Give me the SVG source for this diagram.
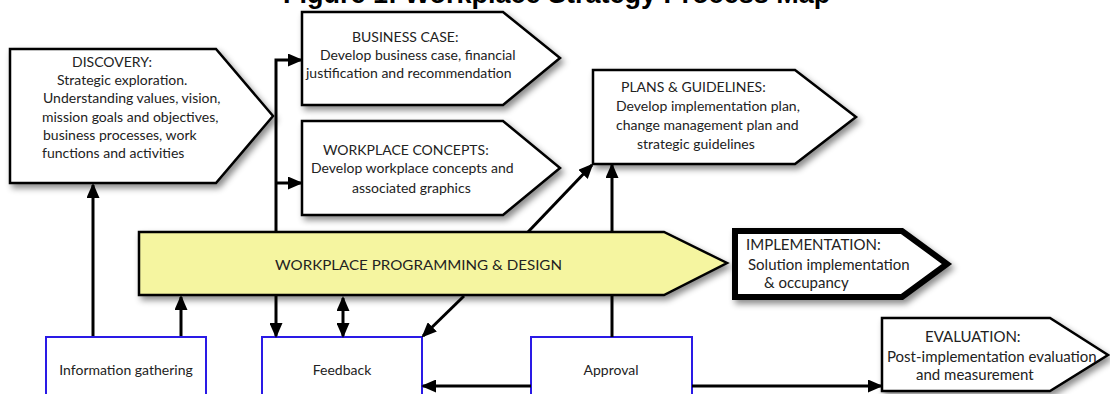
<svg xmlns="http://www.w3.org/2000/svg" width="1110" height="394" viewBox="0 0 1110 394">
<defs>
<filter id="sh" x="-10%" y="-10%" width="130%" height="140%">
<feDropShadow dx="3" dy="4" stdDeviation="3" flood-color="#000" flood-opacity="0.45"/>
</filter>
<marker id="ah" markerUnits="userSpaceOnUse" markerWidth="15" markerHeight="13" refX="13" refY="6.5" orient="auto-start-reverse">
<path d="M0,0 L15,6.5 L0,13 z" fill="#000"/>
</marker>
</defs>
<style>
.pent{fill:#fff;stroke:#000;stroke-width:2.5;stroke-linejoin:miter}
.t{font-family:Lato,"Open Sans","Liberation Sans",sans-serif;font-size:14px;fill:#222}
.l{font-size:15px}
.box{fill:#fff;stroke:#2a1ae6;stroke-width:2}
.c{fill:none;stroke:#000;stroke-width:3}
.ar{marker-end:url(#ah)}
</style>
<rect width="1110" height="394" fill="#fff"/>
<text x="283" y="3" font-family="'Liberation Sans',Arial,sans-serif" font-size="27" font-weight="bold" fill="#000">Figure 1: Workplace Strategy Process Map</text>

<g id="discovery">
<polygon class="pent" filter="url(#sh)" points="10,49 216,49 273,116 216,183 10,183"/>
<text class="t" x="72" y="67">DISCOVERY:</text>
<text class="t" x="57" y="85">Strategic exploration.</text>
<text class="t" x="43" y="103">Understanding values, vision,</text>
<text class="t" x="42" y="122">mission goals and objectives,</text>
<text class="t" x="43" y="140">business processes, work</text>
<text class="t" x="42" y="158">functions and activities</text>
</g>

<g id="business-case">
<polygon class="pent" filter="url(#sh)" points="302,12 503,12 560,58 503,105 302,105"/>
<text class="t" x="352" y="42">BUSINESS CASE:</text>
<text class="t" x="320" y="60">Develop business case, financial</text>
<text class="t" x="306" y="78">justification and recommendation</text>
</g>

<g id="workplace-concepts">
<polygon class="pent" filter="url(#sh)" points="302,121 503,121 560,168 503,215 302,215"/>
<text class="t" x="323" y="155">WORKPLACE CONCEPTS:</text>
<text class="t" x="311" y="173">Develop workplace concepts and</text>
<text class="t" x="352" y="193">associated graphics</text>
</g>

<g id="plans-guidelines">
<polygon class="pent" filter="url(#sh)" points="593,70 795,70 856,117 795,164 593,164"/>
<text class="t" x="621" y="92">PLANS &amp; GUIDELINES:</text>
<text class="t" x="616" y="111">Develop implementation plan,</text>
<text class="t" x="616" y="130">change management plan and</text>
<text class="t" x="637" y="149">strategic guidelines</text>
</g>

<g id="programming-design">
<polygon class="pent" filter="url(#sh)" style="fill:#f5f5a0" points="139,232 664,232 727,263 664,295 139,295"/>
<text class="t" x="275" y="270" font-size="15" textLength="287" lengthAdjust="spacingAndGlyphs">WORKPLACE PROGRAMMING &amp; DESIGN</text>
</g>

<g id="implementation">
<polygon class="pent" filter="url(#sh)" style="stroke-width:6" points="735,231 902,231 947,264 902,297 735,297"/>
<text class="t l" x="746" y="250">IMPLEMENTATION:</text>
<text class="t l" x="748" y="270">Solution implementation</text>
<text class="t l" x="764" y="288">&amp; occupancy</text>
</g>

<g id="evaluation">
<polygon class="pent" filter="url(#sh)" points="882,318 1050,318 1108,355 1050,391 882,391"/>
<text class="t l" x="925" y="342">EVALUATION:</text>
<text class="t l" x="887" y="362">Post-implementation evaluation</text>
<text class="t l" x="916" y="380">and measurement</text>
</g>

<g id="information-gathering">
<rect class="box" x="46" y="337" width="160" height="70"/>
<text class="t" x="126" y="375" text-anchor="middle">Information gathering</text>
</g>

<g id="feedback">
<rect class="box" x="262" y="337" width="160" height="70"/>
<text class="t" x="342" y="375" text-anchor="middle">Feedback</text>
</g>

<g id="approval">
<rect class="box" x="531" y="337" width="161" height="70"/>
<text class="t" x="611" y="375" text-anchor="middle">Approval</text>
</g>

<g id="connectors">
<path class="c ar" d="M93,336 V185"/>
<path class="c ar" d="M181,336 V297"/>
<path class="c ar" d="M276,232 V60 H301"/>
<path class="c ar" d="M276,183 H301"/>
<path class="c ar" d="M276,296 V336"/>
<path class="c ar" d="M343,298 V336" style="marker-start:url(#ah)"/>
<path class="c ar" d="M464,296 L423,336"/>
<path class="c ar" d="M528,232 L592,165"/>
<path class="c" d="M612,337 V296"/>
<path class="c ar" d="M612,232 V165"/>
<path class="c ar" d="M531,386 H423"/>
<path class="c ar" d="M692,386 H881"/>
</g>
</svg>
